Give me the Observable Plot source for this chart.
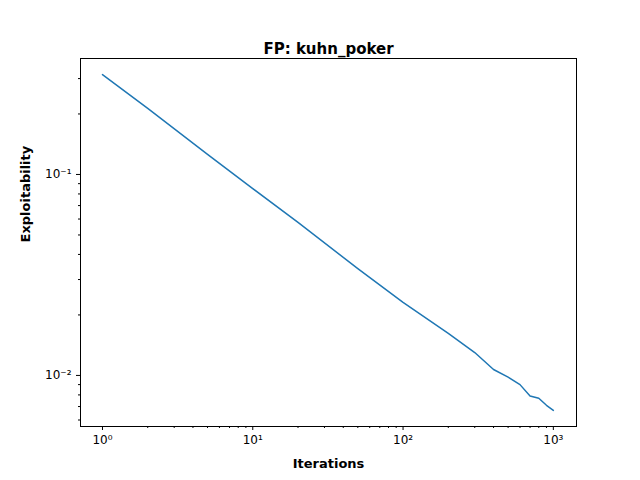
<!DOCTYPE html>
<html><head>
<script src="https://cdn.jsdelivr.net/npm/d3@7"></script>
<script src="https://cdn.jsdelivr.net/npm/@observablehq/plot@0.6"></script>
<style>body{margin:0;background:#fff}</style>
</head><body>
<div id="chart"></div>
<script>
const iterations = [1, 2, 5, 10, 20, 50, 100, 200, 300, 400, 500, 600, 700, 800, 900, 1000];
const exploitability = [0.314, 0.213, 0.126, 0.0851, 0.0577, 0.0340, 0.0231, 0.0162, 0.0130, 0.0107, 0.0098, 0.0090, 0.0079, 0.0077, 0.0071, 0.0067];
const xMajor = [1, 10, 100, 1000];
const xMinor = [2,3,4,5,6,7,8,9,20,30,40,50,60,70,80,90,200,300,400,500,600,700,800,900];
const yMajor = [0.01, 0.1];
const yMinor = [0.006,0.007,0.008,0.009,0.02,0.03,0.04,0.05,0.06,0.07,0.08,0.09,0.2,0.3];
const sup = {"-":"⁻","0":"⁰","1":"¹","2":"²","3":"³"};
const fmt = d => "10" + String(Math.round(Math.log10(d))).split("").map(c => sup[c]).join("");
const data = iterations.map((x, i) => ({x, y: exploitability[i]}));

const chart = Plot.plot({
  width: 640, height: 480,
  marginLeft: 80, marginRight: 64, marginTop: 58, marginBottom: 54,
  style: {fontFamily: "DejaVu Sans", fontSize: "12px", color: "black"},
  x: {type: "log", domain: [0.714, 1426]},
  y: {type: "log", domain: [0.00557, 0.3776]},
  marks: [
    Plot.axisX({ticks: xMajor, tickFormat: fmt, tickSize: 4, label: null}),
    Plot.axisX({ticks: xMinor, tickFormat: () => "", tickSize: 2, label: null}),
    Plot.axisY({ticks: yMajor, tickFormat: fmt, tickSize: 4, label: null}),
    Plot.axisY({ticks: yMinor, tickFormat: () => "", tickSize: 2, label: null}),
    Plot.frame({stroke: "black"}),
    Plot.line(data, {x: "x", y: "y", stroke: "#1f77b4", strokeWidth: 1.5}),
    Plot.text(["FP: kuhn_poker"], {frameAnchor: "top", dy: -15, fontSize: 15, fontWeight: "bold"}),
    Plot.text(["Iterations"], {frameAnchor: "bottom", dy: 41, fontSize: 13, fontWeight: "bold"}),
    Plot.text(["Exploitability"], {frameAnchor: "left", dx: -55, rotate: -90, fontSize: 13, fontWeight: "bold"})
  ]
});
document.getElementById("chart").append(chart);
</script>
</body></html>
